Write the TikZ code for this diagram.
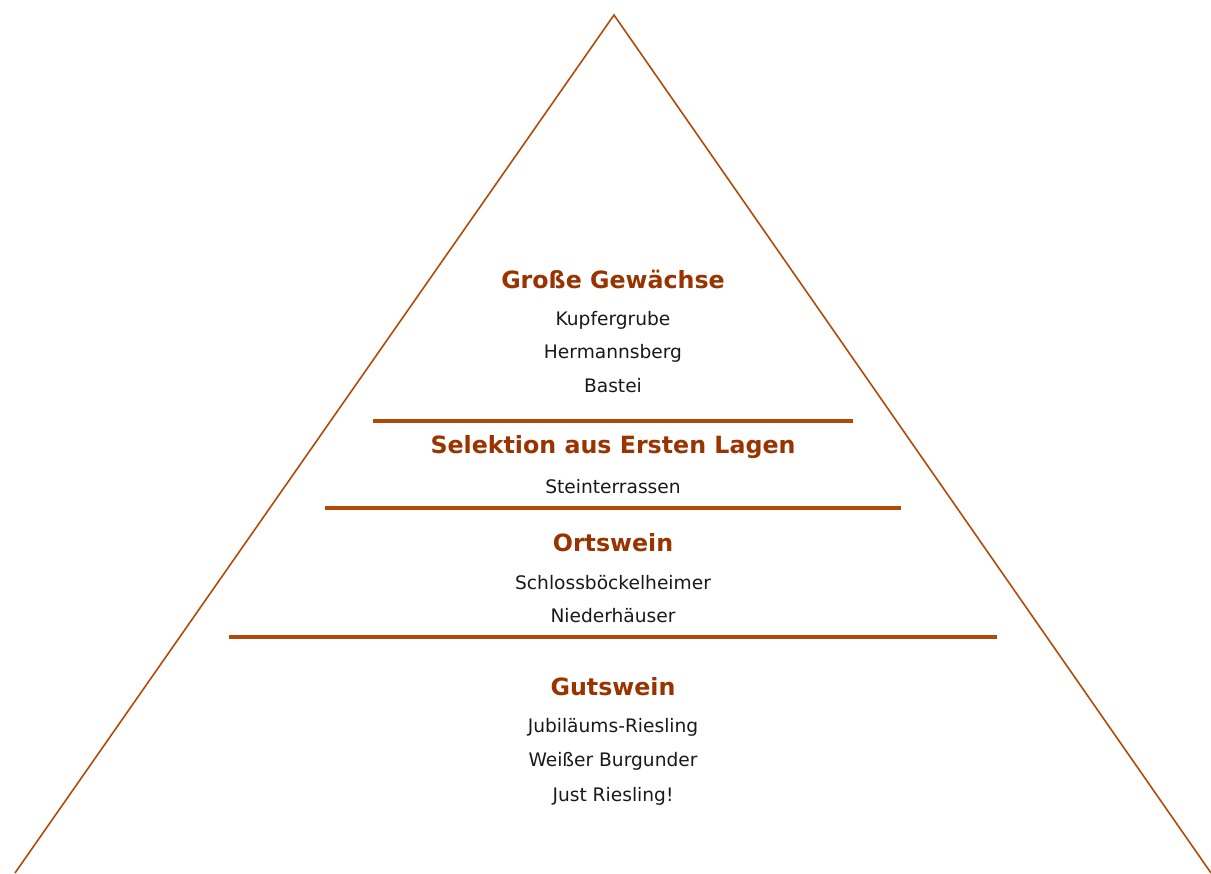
\documentclass[tikz,border=0pt]{standalone}
\usepackage{fontspec}
\setmainfont{DejaVu Sans}
\usepackage[]{tikz}
\usetikzlibrary{positioning}
\definecolor{pyrline}{RGB}{180,72,5}
\definecolor{titlecol}{RGB}{153,51,0}
\tikzset{
    lvltitle/.style={text=titlecol,font=\fontsize{13.5}{16}\selectfont\bfseries,anchor=center,inner sep=0pt},
    lvlitem/.style={text=black!90,font=\fontsize{10.6}{13}\selectfont,anchor=center,inner sep=0pt},
    lvlbar/.style={draw=pyrline,line width=2.2pt}
}
\begin{document}
\begin{tikzpicture}[x=0.02cm,y=-0.02cm]
            \useasboundingbox (0,0) rectangle (1211,873);
            \draw[pyrline,line width=0.9pt] (15,873)--(614,15)--(1211,873);
            \draw[lvlbar] (373,421) -- (853,421);
            \draw[lvlbar] (325,508) -- (901,508);
            \draw[lvlbar] (229,637) -- (997,637);
            \node[lvltitle] (gg) at (613,279) {Große Gewächse};
            \node[lvlitem] (kupf) at (613,320) {Kupfergrube};
            \node[lvlitem] (herm) at (613,353) {Hermannsberg};
            \node[lvlitem] (bast) at (613,386) {Bastei};
            \node[lvltitle] (sel) at (613,447) {Selektion aus Ersten Lagen};
            \node[lvlitem] (stein) at (613,487) {Steinterrassen};
            \node[lvltitle] (orts) at (613,543) {Ortswein};
            \node[lvlitem] (schl) at (613,583) {Schlossböckelheimer};
            \node[lvlitem] (nied) at (613,616) {Niederhäuser};
            \node[lvltitle] (guts) at (613,687) {Gutswein};
            \node[lvlitem] (jub) at (613,727) {Jubiläums-Riesling};
            \node[lvlitem] (weis) at (613,761) {Weißer Burgunder};
            \node[lvlitem] (just) at (613,796) {Just Riesling!};
        \end{tikzpicture}
\end{document}
